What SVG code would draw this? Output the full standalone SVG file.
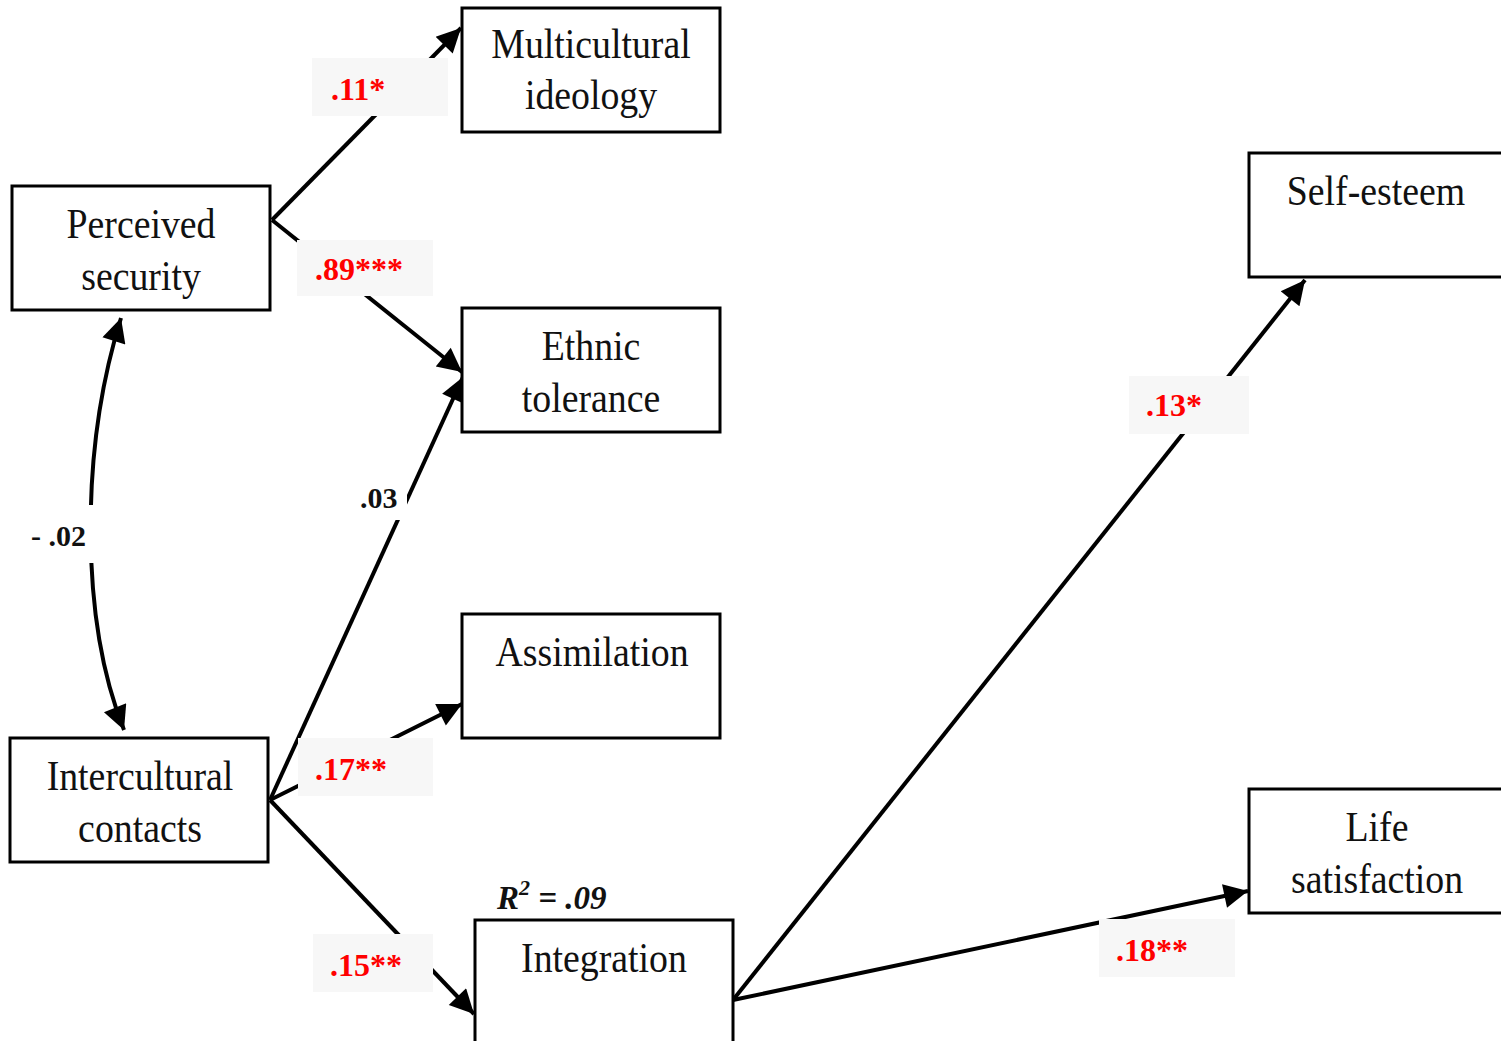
<svg xmlns="http://www.w3.org/2000/svg" width="1501" height="1041" viewBox="0 0 1501 1041">
  <style>
    .box { fill: #ffffff; stroke: #000000; stroke-width: 3; }
    .node-text { font-family: "Liberation Serif", "Times New Roman", serif; font-size: 42px; fill: #111111; text-anchor: middle; }
    .edge { fill: none; stroke: #000000; stroke-width: 4; }
    .coef-bg { fill: #f7f7f7; }
    .coef { font-family: "Liberation Serif", "Times New Roman", serif; font-size: 32px; font-weight: bold; fill: #ff0000; }
    .ns { font-family: "Liberation Serif", "Times New Roman", serif; font-size: 30px; font-weight: bold; fill: #111111; }
    .r2 { font-family: "Liberation Serif", "Times New Roman", serif; font-size: 33px; font-weight: bold; font-style: italic; fill: #111111; }
  </style>
  <defs>
    <marker id="arrow" viewBox="0 0 10 10" refX="10" refY="5" markerWidth="7" markerHeight="6" markerUnits="strokeWidth" orient="auto-start-reverse">
      <path d="M0,0 L10,5 L0,10 Z" fill="#000000"/>
    </marker>
  </defs>
  <rect width="1501" height="1041" fill="#ffffff"/>

  <!-- connectors -->
  <g id="connectors">
    <line class="edge" x1="272" y1="220" x2="461" y2="28" marker-end="url(#arrow)"/>
    <line class="edge" x1="272" y1="220" x2="462" y2="372" marker-end="url(#arrow)"/>
    <path class="edge" d="M121,318 C80,450 80,620 124,730" marker-start="url(#arrow)" marker-end="url(#arrow)"/>
    <line class="edge" x1="270" y1="800" x2="463" y2="377" marker-end="url(#arrow)"/>
    <line class="edge" x1="270" y1="800" x2="462" y2="704" marker-end="url(#arrow)"/>
    <line class="edge" x1="270" y1="800" x2="474" y2="1014" marker-end="url(#arrow)"/>
    <line class="edge" x1="733" y1="1000" x2="1305" y2="280" marker-end="url(#arrow)"/>
    <line class="edge" x1="733" y1="1000" x2="1248" y2="891" marker-end="url(#arrow)"/>

    <!-- coefficient labels -->
    <rect class="coef-bg" x="312" y="58" width="136" height="58"/>
    <text class="coef" x="331" y="100">.11*</text>
    <rect class="coef-bg" x="297" y="240" width="136" height="56"/>
    <text class="coef" x="315" y="280">.89***</text>
    <rect x="30" y="505" width="70" height="58" fill="#ffffff"/>
    <text class="ns" x="31" y="546">- .02</text>
    <rect x="355" y="478" width="52" height="42" fill="#ffffff"/>
    <text class="ns" x="360" y="508">.03</text>
    <rect class="coef-bg" x="298" y="738" width="135" height="58"/>
    <text class="coef" x="315" y="780">.17**</text>
    <rect class="coef-bg" x="313" y="934" width="120" height="58"/>
    <text class="coef" x="330" y="976">.15**</text>
    <rect class="coef-bg" x="1129" y="376" width="120" height="58"/>
    <text class="coef" x="1146" y="416">.13*</text>
    <rect class="coef-bg" x="1099" y="919" width="136" height="58"/>
    <text class="coef" x="1116" y="961">.18**</text>
  </g>

  <!-- nodes -->
  <g id="perceived-security">
    <rect class="box" x="12" y="186" width="258" height="124"/>
    <text class="node-text" transform="translate(141,238) scale(0.9,1)">Perceived</text>
    <text class="node-text" transform="translate(141,290) scale(0.9,1)">security</text>
  </g>
  <g id="multicultural-ideology">
    <rect class="box" x="462" y="8" width="258" height="124"/>
    <text class="node-text" transform="translate(591,58) scale(0.9,1)">Multicultural</text>
    <text class="node-text" transform="translate(591,109) scale(0.9,1)">ideology</text>
  </g>
  <g id="ethnic-tolerance">
    <rect class="box" x="462" y="308" width="258" height="124"/>
    <text class="node-text" transform="translate(591,360) scale(0.9,1)">Ethnic</text>
    <text class="node-text" transform="translate(591,412) scale(0.9,1)">tolerance</text>
  </g>
  <g id="assimilation">
    <rect class="box" x="462" y="614" width="258" height="124"/>
    <text class="node-text" transform="translate(592,666) scale(0.9,1)">Assimilation</text>
  </g>
  <g id="intercultural-contacts">
    <rect class="box" x="10" y="738" width="258" height="124"/>
    <text class="node-text" transform="translate(140,790) scale(0.9,1)">Intercultural</text>
    <text class="node-text" transform="translate(140,842) scale(0.9,1)">contacts</text>
  </g>
  <g id="integration">
    <rect class="box" x="475" y="920" width="258" height="130"/>
    <text class="node-text" transform="translate(604,972) scale(0.9,1)">Integration</text>
    <text class="r2" x="497" y="909">R<tspan font-size="22" dy="-14">2</tspan><tspan dy="14"> = .09</tspan></text>
  </g>
  <g id="self-esteem">
    <rect class="box" x="1249" y="153" width="262" height="124"/>
    <text class="node-text" transform="translate(1376,205) scale(0.9,1)">Self-esteem</text>
  </g>
  <g id="life-satisfaction">
    <rect class="box" x="1249" y="789" width="262" height="124"/>
    <text class="node-text" transform="translate(1377,841) scale(0.9,1)">Life</text>
    <text class="node-text" transform="translate(1377,893) scale(0.9,1)">satisfaction</text>
  </g>
</svg>
